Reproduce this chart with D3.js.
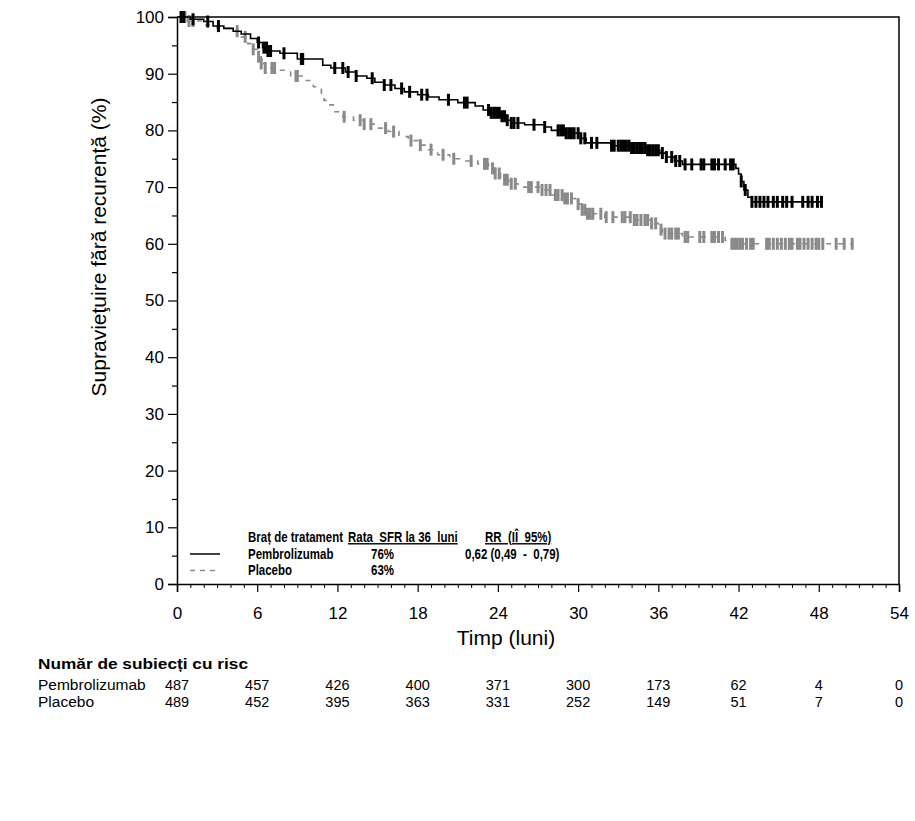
<!DOCTYPE html>
<html><head><meta charset="utf-8">
<script src="https://cdn.jsdelivr.net/npm/d3@7"></script>
<style>body{margin:0;background:#fff}svg{display:block}text{font-family:"Liberation Sans",Arial,sans-serif}</style>
</head><body>
<svg id="c" width="915" height="821"></svg>
<script>
// ---- data ----
const xTicks = [0,6,12,18,24,30,36,42,48,54];
const yTicks = [0,10,20,30,40,50,60,70,80,90,100];
const seriesNames = ["Pembrolizumab","Placebo"];
const pembroT = [0,1.0,2.0,2.7,3.5,4.2,4.8,5.5,6.0,6.4,6.8,7.7,9.0,10.9,11.5,12.6,13.4,14.2,14.8,15.5,16.3,17.0,18.0,18.8,19.6,21.0,22.3,22.9,23.5,24.2,24.6,25.0,26.0,27.5,28.0,29.0,30.2,30.6,32.5,34.0,35.2,36.1,36.6,37.2,37.8,41.8,42.0,42.2,42.4,42.7,43.0,48.3];
const pembroS = [100,99.6,99.2,98.4,98.0,97.5,97.0,96.2,95.5,94.6,94.0,93.6,92.6,91.5,91.0,90.3,89.6,89.2,88.5,88.0,87.4,86.8,86.3,85.9,85.4,84.9,84.3,83.6,83.1,82.5,81.8,81.3,81.0,80.6,80.0,79.5,78.6,77.8,77.3,76.9,76.5,76.0,75.3,74.6,74.0,73.3,72.3,71.0,69.5,68.2,67.4,67.4];
const placeboT = [0,0.8,2.0,3.0,4.2,4.8,5.3,5.7,6.0,6.3,6.6,7.5,8.5,9.6,10.2,10.8,11.0,11.3,11.8,12.4,13.2,14.0,15.0,15.8,16.6,17.3,18.0,18.8,19.5,20.4,21.4,22.5,23.3,23.8,24.2,24.8,25.5,27.2,28.0,29.0,29.8,30.3,30.6,32.0,34.0,35.5,36.0,36.3,37.8,41.0,41.5,50.5];
const placeboS = [100,99.3,98.6,98.0,97.5,96.5,95.3,94.3,93.0,91.8,91.0,90.6,89.6,88.8,87.7,86.5,85.3,84.5,83.3,82.4,81.8,81.1,80.4,79.8,78.9,78.2,77.4,76.6,75.7,75.0,74.6,74.1,73.3,72.4,71.3,70.6,70.0,69.5,68.6,68.0,67.0,66.0,65.3,64.7,64.2,63.6,62.5,61.8,61.2,60.6,60.0,60.0];
const pembroCens = [0.3,0.5,1.2,2.3,3.1,6.1,6.5,6.7,6.8,7.0,8.0,9.3,9.4,11.8,12.4,12.8,13.4,14.6,15.5,16.0,16.8,17.4,18.3,18.7,20.3,21.5,21.7,23.3,23.5,23.7,23.9,24.1,24.3,24.5,24.7,25.0,25.2,25.5,26.7,27.5,28.5,28.7,28.9,29.1,29.3,29.5,29.7,30.0,30.2,30.5,31.0,31.4,32.5,32.7,33.0,33.2,33.4,33.6,33.8,34.0,34.2,34.4,34.6,34.8,35.0,35.2,35.4,35.6,35.8,36.0,36.3,36.6,37.0,37.3,37.6,38.0,38.5,39.2,39.4,40.0,40.2,40.5,41.0,41.4,41.6,42.2,42.5,43.0,43.3,43.6,43.9,44.2,44.6,44.9,45.3,45.6,46.0,46.8,47.2,47.5,47.9,48.2];
const placeboCens = [0.4,0.6,0.9,1.2,4.5,5.1,5.7,6.1,6.3,6.6,7.1,7.3,8.9,9.0,12.5,13.7,14.0,14.5,15.6,16.2,17.5,18.2,19.0,19.9,20.7,22.0,23.0,23.2,23.6,23.8,24.1,24.5,24.7,25.0,25.3,26.3,26.5,27.0,27.3,27.6,27.9,28.3,28.5,28.8,29.0,29.2,29.5,30.0,30.3,30.5,30.7,30.9,31.1,31.7,32.1,32.6,33.3,33.5,33.9,34.2,34.4,34.7,35.0,35.2,35.5,35.8,36.2,36.5,36.8,37.0,37.3,37.5,38.0,38.2,39.1,39.4,40.0,40.2,40.5,40.8,41.5,41.7,41.9,42.1,42.3,42.6,42.9,43.1,44.1,44.3,44.6,44.9,45.2,45.5,45.8,46.0,46.4,46.6,46.9,47.2,47.5,47.8,48.0,48.3,49.3,49.9,50.5];
const riskTimes = [0,6,12,18,24,30,36,42,48,54];
const riskPembro = [487,457,426,400,371,300,173,62,4,0];
const riskPlacebo = [489,452,395,363,331,252,149,51,7,0];
const legendRates = ["76%","63%"];
const legendHR = ["0,62 (0,49  -  0,79)",""];

// ---- drawing ----
const svg = d3.select("#c");
const L=177, R=899, T=17, B=584;
const x = d3.scaleLinear().domain([0,54]).range([L,R]);
const y = d3.scaleLinear().domain([0,100]).range([B,T]);

// frame (top/right)
svg.append("path").attr("d",`M${L},${T}H${R}V${B}`).attr("fill","none").attr("stroke","#000").attr("stroke-width",1.5);

// y axis
const yAxis = svg.append("g").attr("transform",`translate(${L},0)`)
  .call(d3.axisLeft(y).tickValues(yTicks).tickSize(9).tickPadding(4).tickFormat(d3.format("d")));
yAxis.select(".domain").attr("stroke-width",1.5);
yAxis.selectAll("text").attr("font-size",17).attr("font-family","Liberation Sans, Arial, sans-serif");
yAxis.selectAll("line").attr("stroke-width",1.2);
svg.append("g").attr("transform",`translate(${L},0)`)
  .call(d3.axisLeft(y).tickValues(d3.range(5,100,10)).tickSize(5).tickFormat(""))
  .call(g=>g.select(".domain").remove()).selectAll("line").attr("stroke-width",1.2);

// x axis
const xAxis = svg.append("g").attr("transform",`translate(0,${B})`)
  .call(d3.axisBottom(x).tickValues(xTicks).tickSize(8).tickPadding(15).tickFormat(d3.format("d")));
xAxis.select(".domain").attr("stroke-width",1.5);
xAxis.selectAll("text").attr("font-size",17).attr("font-family","Liberation Sans, Arial, sans-serif");
xAxis.selectAll("line").attr("stroke-width",1.2);
svg.append("g").attr("transform",`translate(0,${B})`)
  .call(d3.axisBottom(x).tickValues(d3.range(0,55).filter(d=>d%6!==0)).tickSize(4).tickFormat(""))
  .call(g=>g.select(".domain").remove()).selectAll("line").attr("stroke-width",1);

// axis titles
svg.append("text").attr("x",506).attr("y",645).attr("text-anchor","middle").attr("font-size",21).text("Timp (luni)");
svg.append("text").attr("transform","translate(106,247) rotate(-90)").attr("text-anchor","middle").attr("font-size",21).text("Supravieţuire fără recurență (%)");

// curves
const line = d3.line().x(d=>x(d[0])).y(d=>y(d[1])).curve(d3.curveStepAfter);
function survAt(T_,S_,t){const i=d3.bisectRight(T_,t)-1;return S_[Math.max(0,i)];}
const series = [
  {T:pembroT,S:pembroS,C:pembroCens,color:"#000",dash:null,w:1.6},
  {T:placeboT,S:placeboS,C:placeboCens,color:"#8a8a8a",dash:"5,7",w:1.6}
];
series.slice().reverse().forEach(s=>{
  const pts = s.T.map((t,i)=>[t,s.S[i]]);
  svg.append("path").attr("d",line(pts)).attr("fill","none").attr("stroke",s.color)
    .attr("stroke-width",s.w).attr("stroke-dasharray",s.dash);
  svg.append("g").selectAll("line").data(s.C).join("line")
    .attr("x1",d=>x(d)).attr("x2",d=>x(d))
    .attr("y1",d=>y(survAt(s.T,s.S,d))-6).attr("y2",d=>y(survAt(s.T,s.S,d))+6)
    .attr("stroke",s.color).attr("stroke-width",3);
});

// legend (narrow bold text)
const lg = svg.append("g").attr("font-weight","bold").attr("font-size",14);
function nt(tx,ty,str,ul){
  const t = lg.append("text").attr("transform",`translate(${tx},${ty}) scale(0.82,1)`).style("white-space","pre").text(str);
  if(ul) t.attr("text-decoration","underline");
  return t;
}
nt(248,542,"Braț de tratament");
nt(348,542,"Rata  SFR la 36  luni",true);
nt(485,542,"RR  (IÎ  95%)",true);
seriesNames.forEach((n,i)=>{
  const yy = 558.5 + i*16.5;
  nt(248,yy,n);
  nt(371,yy,legendRates[i]);
  nt(465,yy,legendHR[i]);
  svg.append("line").attr("x1",190).attr("x2",220).attr("y1",yy-4.5).attr("y2",yy-4.5)
    .attr("stroke",series[i].color).attr("stroke-width",1.5).attr("stroke-dasharray",series[i].dash?"5,5":null);
});

// risk table
svg.append("text").attr("x",38).attr("y",669).attr("font-weight","bold").attr("font-size",15.5)
  .attr("textLength",210).attr("lengthAdjust","spacingAndGlyphs").text("Număr de subiecți cu risc");
[[riskPembro,690],[riskPlacebo,707]].forEach(([vals,yy],i)=>{
  svg.append("text").attr("x",38).attr("y",yy).attr("font-size",15.5).text(seriesNames[i]);
  svg.append("g").selectAll("text").data(vals).join("text")
    .attr("x",(d,j)=>x(riskTimes[j])).attr("y",yy).attr("text-anchor","middle").attr("font-size",14.5).text(d=>d);
});
</script>
</body></html>
